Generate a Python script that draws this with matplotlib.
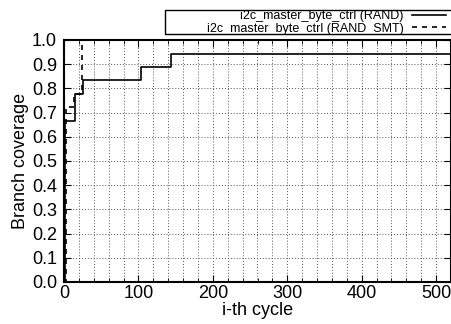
import matplotlib.pyplot as plt
from matplotlib.patches import Rectangle
from matplotlib.ticker import MultipleLocator

plt.rcParams['font.family'] = ['Liberation Sans', 'DejaVu Sans']

# coverage steps (step-post), fractions of 18 branches
rand_x = [0, 2, 15, 25, 104, 144, 520]
rand_y = [0.0, 0.667, 0.778, 0.833, 0.889, 0.944, 0.944]
smt_x = [0, 3, 13, 24, 24]
smt_y = [0.0, 0.722, 0.778, 1.0, 1.0]

W, H = 452, 324
fig = plt.figure(figsize=(W / 100, H / 100), dpi=100)
ax = fig.add_axes([64 / W, 1 - 282 / H, (451 - 64) / W, (282 - 40) / H])

ax.plot(rand_x, rand_y, drawstyle='steps-post', color='black', lw=1.2,
        label='i2c_master_byte_ctrl (RAND)')
ax.plot(smt_x, smt_y, drawstyle='steps-post', color='black', lw=1.2,
        linestyle=(0, (3, 3)), label='i2c_master_byte_ctrl (RAND_SMT)')

ax.set_xlim(0, 520)
ax.set_ylim(0, 1.0)
ax.xaxis.set_major_locator(MultipleLocator(100))
ax.xaxis.set_minor_locator(MultipleLocator(20))
ax.yaxis.set_major_locator(MultipleLocator(0.1))
ax.yaxis.set_major_formatter(plt.FormatStrFormatter('%.1f'))
ax.grid(True, which='both', color='#555555', linestyle=(0, (1, 2)), lw=0.7)
ax.tick_params(which='both', direction='in', top=True, right=True, labelsize=13)
ax.tick_params(axis='x', pad=2)
ax.tick_params(axis='y', pad=5)
ax.tick_params(which='major', length=5)
ax.tick_params(which='minor', length=3)
for s in ax.spines.values():
    s.set_linewidth(1.5)

ax.set_xlabel('i-th cycle', fontsize=13, labelpad=0)
ax.set_ylabel('Branch coverage', fontsize=13, labelpad=2)

leg = ax.legend(loc='upper right', bbox_to_anchor=(446 / W, 1 - 10 / H),
                bbox_transform=fig.transFigure, markerfirst=False,
                fontsize=9, frameon=False, handlelength=2.7, handletextpad=0.7,
                borderpad=0, labelspacing=0.05, borderaxespad=0)
for t in leg.get_texts():
    t.set_ha('right')
fig.patches.append(Rectangle((165 / W, 1 - 34 / H), 300 / W, 24 / H,
                             transform=fig.transFigure, fill=False,
                             edgecolor='black', lw=1.0))

fig.savefig('out.png', dpi=100)
